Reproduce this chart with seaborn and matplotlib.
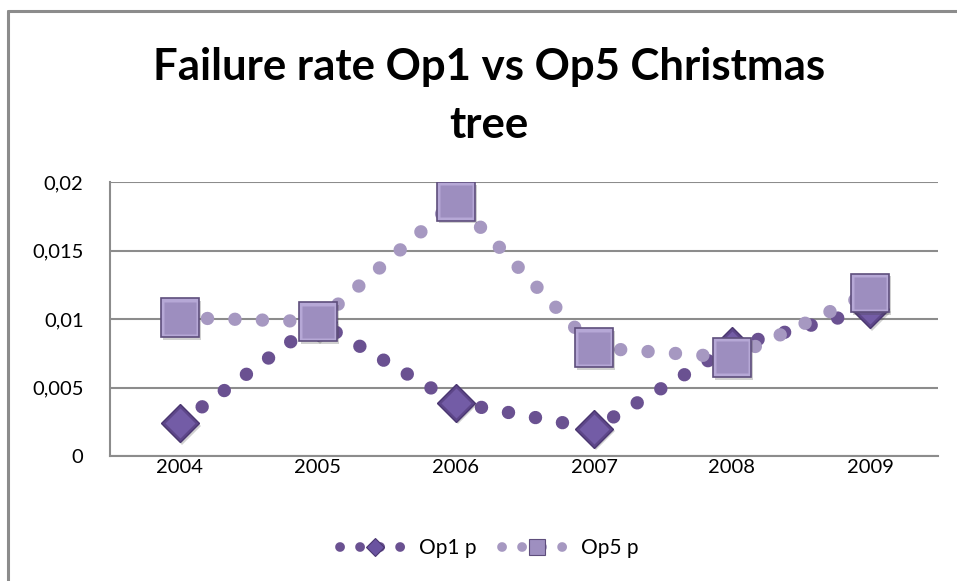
import numpy as np
import pandas as pd
import seaborn as sns
import matplotlib.pyplot as plt
from matplotlib.lines import Line2D
import matplotlib.patheffects as pe

# values
years = ['2004', '2005', '2006', '2007', '2008', '2009']
op1_p = [0.0024, 0.0098, 0.0039, 0.0020, 0.0080, 0.0107]
op5_p = [0.0101, 0.0098, 0.0186, 0.0079, 0.0072, 0.0119]
y_ticks = [0, 0.005, 0.01, 0.015, 0.02]
y_labels = ['0', '0,005', '0,01', '0,015', '0,02']

dark = '#6a5191'
light = '#a698c1'
grid = '#8c8c8c'

df = pd.DataFrame({'x': np.arange(len(years)), 'op1': op1_p, 'op5': op5_p})

sns.set_style('white')
plt.rcParams['font.family'] = ['Lato', 'DejaVu Sans']
plt.rcParams['text.color'] = 'black'

fig = plt.figure(figsize=(9.57, 5.81), dpi=100)
ax = fig.add_axes([110 / 957, 1 - 456 / 581, 828 / 957, 274 / 581])

shadow = [pe.SimplePatchShadow(offset=(1.5, -2), alpha=0.25, shadow_rgbFace='#444444'), pe.Normal()]
dots = (0, (0.01, 2.05))

# Op1 series
sns.lineplot(data=df, x='x', y='op1', ax=ax, color=dark, lw=9.6,
             linestyle=dots, dash_capstyle='round', zorder=3)
ax.plot(df['x'], df['op1'], ls='none', marker='D', ms=19.4, mfc='#5d4689', mec='#4a3670',
        mew=1, zorder=4, path_effects=shadow)
ax.plot(df['x'], df['op1'], ls='none', marker='D', ms=15, mfc='#735ca6', mec='none', zorder=4)

# Op5 series
sns.lineplot(data=df, x='x', y='op5', ax=ax, color=light, lw=9.6,
             linestyle=dots, dash_capstyle='round', zorder=5)
ax.plot(df['x'], df['op5'], ls='none', marker='s', ms=28, mfc='#b6a8d6', mec='#5e4e7c',
        mew=1.2, zorder=6, path_effects=shadow)
ax.plot(df['x'], df['op5'], ls='none', marker='s', ms=23.5, mfc='#9d8ebf', mec='none', zorder=6)

ax.set_xlim(-0.507, 5.493)
ax.set_ylim(0, 0.02)
ax.set_xticks(df['x'])
ax.set_xticklabels(years)
ax.set_yticks(y_ticks)
ax.set_yticklabels(y_labels)
ax.set_xlabel('')
ax.set_ylabel('')
ax.tick_params(axis='both', length=0, labelsize=14.5, colors='black')
ax.tick_params(axis='y', pad=19)
ax.tick_params(axis='x', pad=2)
ax.yaxis.grid(True, color=grid, lw=1.5)
ax.set_axisbelow(True)
for side in ['top', 'right']:
    ax.spines[side].set_visible(False)
for side in ['left', 'bottom']:
    ax.spines[side].set_color(grid)
    ax.spines[side].set_linewidth(1.5)

fig.text(489 / 957, 1 - 96 / 581, 'Failure rate Op1 vs Op5 Christmas\ntree', color='black',
         ha='center', va='center', fontsize=31.5, fontweight='bold', linespacing=1.55)

# legend
legend_dots = (0, (0.01, 2.05))
h1 = Line2D([], [], color=dark, lw=7, linestyle=legend_dots, dash_capstyle='round',
            marker='D', ms=9.2, mfc='#6a53a0', mec='#4a3670', mew=0.8)
h5 = Line2D([], [], color=light, lw=7, linestyle=legend_dots, dash_capstyle='round',
            marker='s', ms=12, mfc='#9e8fc0', mec='#5e4e7c', mew=0.8)
leg = fig.legend([h1, h5], ['Op1 p', 'Op5 p'], loc='center', ncol=2,
                 bbox_to_anchor=(489 / 957, 1 - 548 / 581), frameon=False, fontsize=15,
                 handlelength=3.4, handletextpad=0.4, columnspacing=1.2, numpoints=1)
for t in leg.get_texts():
    t.set_color('black')

# outer chart border
fig.add_artist(Line2D([8 / 957, 8 / 957], [0, 1 - 11 / 581], color=grid, lw=2.2,
                      transform=fig.transFigure))
fig.add_artist(Line2D([8 / 957, 1], [1 - 11 / 581, 1 - 11 / 581], color=grid, lw=2.2,
                      transform=fig.transFigure))

fig.savefig('out.png', dpi=100)
